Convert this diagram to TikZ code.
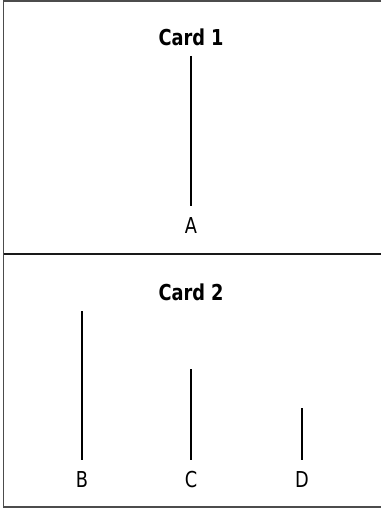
\documentclass[tikz,border=0pt]{standalone}
\usepackage{fontspec}
\setmainfont[FakeStretch=0.9]{DejaVu Sans Condensed}
\begin{document}
\begin{tikzpicture}[x=1bp,y=-1bp,
  frame/.style={draw=black!70, line width=1.6bp},
  divider/.style={draw=black!90, line width=1.8bp},
  bar/.style={draw=black, line width=2.2bp, shorten >=9bp},
  title/.style={font=\bfseries\fontsize{22}{26}\selectfont, inner sep=2bp},
  label/.style={font=\fontsize{22}{26}\selectfont, inner sep=2bp}]
  \useasboundingbox (0,0) rectangle (381,509);
  % card outlines (right edge runs off the page)
  \draw[frame] (381,1) -- (3.5,1) -- (3.5,507) -- (381,507);
  \draw[divider] (3.5,254) -- (381,254);

  % card 1
  \node[title] (t1) at (191,37.5) {Card 1};
  \node[label] (A) at (191,225.5) {A};
  \coordinate (topA) at (191,56);
  \draw[bar] (topA) -- (A.north);

  % card 2
  \node[title] (t2) at (191,292) {Card 2};
  \node[label] (B) at (82,479.5) {B};
  \node[label] (C) at (191,479.5) {C};
  \node[label] (D) at (302,479.5) {D};
  \coordinate (topB) at (82,311);
  \coordinate (topC) at (191,369);
  \coordinate (topD) at (302,408);
  \draw[bar] (topB) -- (B.north);
  \draw[bar] (topC) -- (C.north);
  \draw[bar] (topD) -- (D.north);
\end{tikzpicture}
\end{document}
